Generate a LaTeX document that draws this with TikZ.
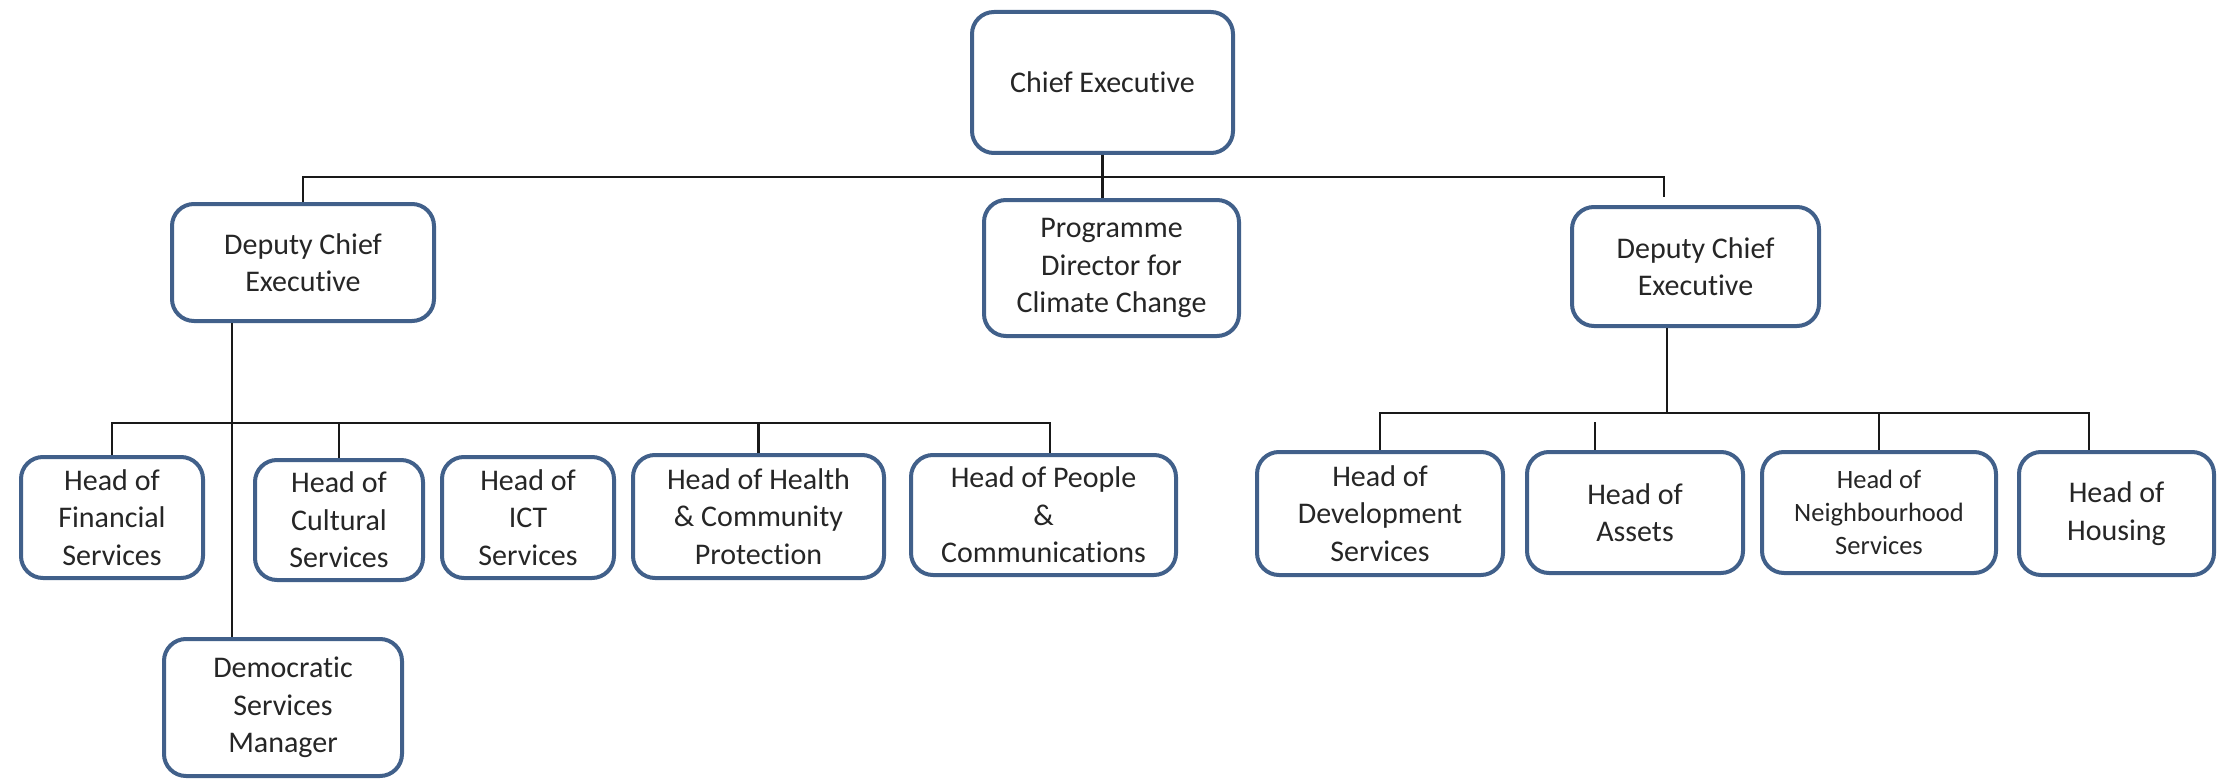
\documentclass[tikz,border=0pt]{standalone}
\usepackage{fontspec}
\setmainfont[Ligatures={NoCommon}]{Carlito}
\definecolor{boxblue}{HTML}{41608A}
\begin{document}
\begin{tikzpicture}[x=1pt,y=-1pt,
  orgbox/.style={draw=boxblue, line width=4pt, rounded corners=22pt, fill=white,
    align=center, inner sep=0pt, text=black!85,
    font=\fontsize{30}{37.5}\selectfont},
  link/.style={line width=2.5pt, black!90}]
\useasboundingbox[fill=white] (0,0) rectangle (2219,781);
% boxes
\node[orgbox, minimum width=261pt, minimum height=141pt] (ce) at (1102.5,82.5) {Chief Executive};
\node[orgbox, minimum width=255pt, minimum height=136pt] (pd) at (1111.5,268) {Programme\\Director for\\Climate Change};
\node[orgbox, minimum width=262pt, minimum height=117pt] (ldc) at (303,262.5) {Deputy Chief\\Executive};
\node[orgbox, minimum width=247pt, minimum height=119pt] (rdc) at (1695.5,266.5) {Deputy Chief\\Executive};
\node[orgbox, minimum width=182pt, minimum height=121pt] (fin) at (112,517.5) {Head of\\Financial\\Services};
\node[orgbox, minimum width=168pt, minimum height=120pt] (cul) at (339,520) {Head of\\Cultural\\Services};
\node[orgbox, minimum width=172pt, minimum height=121pt] (ict) at (528,517.5) {Head of\\ICT\\Services};
\node[orgbox, minimum width=251pt, minimum height=123pt] (hea) at (758.5,516.5) {Head of Health\\\& Community\\Protection};
\node[orgbox, minimum width=265pt, minimum height=120pt] (peo) at (1043.5,515) {Head of People\\\&\\Communications};
\node[orgbox, minimum width=238pt, minimum height=137pt] (dem) at (283,707.5) {Democratic\\Services\\Manager};
\node[orgbox, minimum width=246pt, minimum height=123pt] (dev) at (1380,513.5) {Head of\\Development\\Services};
\node[orgbox, minimum width=216pt, minimum height=121pt] (ass) at (1635,512.5) {Head of\\Assets};
\node[orgbox, minimum width=234pt, minimum height=121pt, font=\fontsize{26.5}{33}\selectfont] (nei) at (1879,512.5) {Head of\\Neighbourhood\\Services};
\node[orgbox, minimum width=195pt, minimum height=123pt] (hou) at (2116.5,513.5) {Head of\\Housing};
% helper coordinates
\coordinate (b1r) at (1664,177);
\coordinate (trunk) at (232,0);
\coordinate (b2r) at (1050,423);
\coordinate (s3) at (1667,0);
\coordinate (b3r) at (2089,413);
\coordinate (ta) at (1595,422);
% top level
\draw[link] (ce.south) -- (ce.south |- pd.north);
\draw[link] (ldc.north) |- (b1r) -- ++(0,20);
% left deputy
\draw[link] (ldc.south -| trunk) -- (dem.north -| trunk);
\draw[link] (fin.north) |- (b2r) -- (b2r |- peo.north);
\draw[link] (cul.north) -- (cul.north |- b2r);
\draw[link] (hea.north) -- (hea.north |- b2r);
% right deputy
\draw[link] (rdc.south -| s3) -- (s3 |- b3r);
\draw[link] (dev.north) |- (b3r) -- (b3r |- hou.north);
\draw[link] (ta) -- (ta |- ass.north);
\draw[link] (nei.north) -- (nei.north |- b3r);
\end{tikzpicture}
\end{document}
